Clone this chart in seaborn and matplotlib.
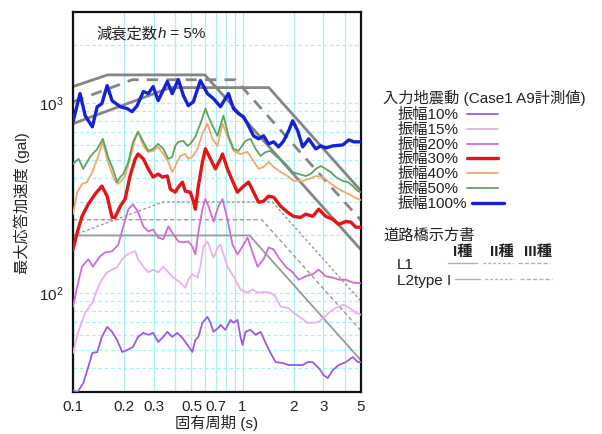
import matplotlib
matplotlib.use("Agg")
import matplotlib.pyplot as plt
import seaborn as sns
import pandas as pd
from matplotlib.lines import Line2D
from matplotlib.ticker import LogLocator, FixedLocator, FixedFormatter, NullFormatter

# ---------------- data ----------------
T_100 = [0.100, 0.110, 0.118, 0.130, 0.139, 0.148, 0.159, 0.170, 0.190, 0.209, 0.223, 0.239, 0.260, 0.278,
         0.297, 0.318, 0.360, 0.385, 0.418, 0.448, 0.479, 0.513, 0.564, 0.621, 0.674, 0.741, 0.772, 0.826,
         0.885, 0.947, 1.014, 1.085, 1.162, 1.244, 1.331, 1.425, 1.526, 1.633, 1.748, 1.872, 1.976, 2.116,
         2.265, 2.458, 2.704, 2.895, 3.099, 3.408, 3.906, 4.240, 4.538, 5.0]
A_100 = [793, 1116, 854, 746, 952, 988, 1230, 1025, 952, 930, 896, 964, 1144, 1116,
         1215, 1025, 1291, 1116, 1324, 1089, 964, 1012, 1307, 1116, 1050, 952, 1012, 1116,
         930, 875, 843, 756, 669, 645, 669, 607, 622, 585, 629, 711, 803, 711,
         585, 645, 571, 592, 578, 592, 599, 637, 622, 622]

T_50 = [0.100, 0.108, 0.115, 0.126, 0.139, 0.150, 0.161, 0.172, 0.182, 0.190, 0.198, 0.212, 0.226, 0.242,
        0.260, 0.278, 0.297, 0.318, 0.341, 0.365, 0.385, 0.401, 0.418, 0.448, 0.473, 0.492, 0.527, 0.564,
        0.604, 0.630, 0.665, 0.711, 0.772, 0.826, 0.885, 0.947, 1.042, 1.115, 1.194, 1.279, 1.368, 1.464,
        1.568, 1.725, 1.846, 1.976, 2.145, 2.359, 2.526, 2.704, 2.895, 3.099, 3.317, 3.550, 3.906, 4.182,
        4.476, 4.792, 5.0]
A_50 = [476, 506, 448, 518, 571, 645, 518, 448, 382, 406, 421, 487, 622, 703,
        622, 557, 571, 607, 571, 506, 518, 592, 622, 629, 592, 607, 661, 774,
        930, 843, 756, 669, 854, 669, 571, 557, 629, 645, 571, 524, 550, 557,
        524, 493, 464, 431, 421, 411, 421, 448, 464, 448, 431, 406, 387, 382,
        364, 342, 338]

T_40 = [0.100, 0.106, 0.113, 0.121, 0.130, 0.139, 0.150, 0.161, 0.172, 0.182, 0.190, 0.203, 0.217, 0.233,
        0.242, 0.260, 0.278, 0.297, 0.318, 0.341, 0.365, 0.385, 0.401, 0.430, 0.460, 0.479, 0.506, 0.542,
        0.580, 0.621, 0.665, 0.711, 0.762, 0.815, 0.885, 0.973, 1.071, 1.162, 1.244, 1.331, 1.425, 1.526,
        1.679, 1.846, 2.004, 2.265, 2.458, 2.704, 2.975, 3.228, 3.550, 3.906, 4.240, 4.663, 5.0]
A_40 = [259, 338, 373, 382, 431, 506, 622, 487, 411, 373, 382, 411, 506, 645,
        703, 592, 550, 557, 585, 537, 487, 431, 464, 524, 537, 506, 518, 571,
        686, 774, 645, 592, 774, 669, 557, 537, 550, 493, 448, 459, 487, 459,
        431, 411, 387, 387, 396, 411, 406, 382, 359, 342, 330, 314, 307]

T_30 = [0.100, 0.106, 0.113, 0.123, 0.135, 0.148, 0.159, 0.170, 0.177, 0.190, 0.203, 0.217, 0.233, 0.242,
        0.260, 0.278, 0.297, 0.318, 0.336, 0.360, 0.375, 0.401, 0.418, 0.442, 0.460, 0.492, 0.513, 0.527,
        0.549, 0.580, 0.604, 0.647, 0.692, 0.741, 0.762, 0.815, 0.873, 0.934, 1.000, 1.085, 1.162, 1.244,
        1.331, 1.425, 1.526, 1.679, 1.846, 2.004, 2.204, 2.359, 2.595, 2.817, 3.099, 3.408, 3.698, 4.070,
        4.355, 4.663, 5.0]
A_30 = [169, 208, 252, 292, 330, 364, 322, 249, 249, 285, 311, 411, 506, 537,
        506, 448, 406, 421, 406, 411, 351, 338, 359, 382, 342, 338, 303, 275,
        364, 487, 571, 506, 448, 506, 537, 448, 387, 338, 359, 382, 338, 299,
        303, 322, 318, 285, 265, 252, 249, 259, 252, 275, 252, 243, 229, 237,
        235, 221, 221]

T_20 = [0.100, 0.106, 0.113, 0.123, 0.131, 0.144, 0.155, 0.170, 0.185, 0.198, 0.212, 0.226, 0.242, 0.260,
        0.278, 0.297, 0.318, 0.341, 0.365, 0.391, 0.418, 0.448, 0.479, 0.506, 0.527, 0.549, 0.580, 0.604,
        0.630, 0.674, 0.721, 0.762, 0.815, 0.873, 0.934, 1.000, 1.071, 1.146, 1.227, 1.331, 1.425, 1.526,
        1.633, 1.797, 1.976, 2.145, 2.359, 2.595, 2.817, 3.099, 3.408, 3.698, 4.070, 4.476, 5.0]
A_20 = [84.3, 108, 137, 150, 137, 155, 163, 165, 179, 223, 275, 292, 265, 223,
        210, 215, 195, 191, 223, 203, 186, 184, 186, 175, 159, 208, 275, 311,
        285, 237, 285, 311, 243, 179, 159, 175, 195, 163, 137, 150, 173, 169,
        153, 137, 128, 117, 122, 125, 132, 122, 120, 117, 117, 113, 112]

T_15 = [0.100, 0.107, 0.118, 0.130, 0.139, 0.148, 0.159, 0.170, 0.182, 0.195, 0.209, 0.223, 0.233, 0.242,
        0.260, 0.278, 0.297, 0.318, 0.341, 0.365, 0.391, 0.430, 0.460, 0.479, 0.506, 0.542, 0.564, 0.588,
        0.621, 0.647, 0.674, 0.721, 0.741, 0.815, 0.885, 0.973, 1.071, 1.146, 1.227, 1.331, 1.464, 1.568,
        1.679, 1.846, 2.004, 2.204, 2.424, 2.631, 2.817, 3.015, 3.228, 3.550, 3.960, 4.240, 4.663, 5.0]
A_15 = [48.1, 61.4, 78.4, 88.5, 104, 117, 128, 132, 136, 150, 159, 163, 165, 150,
        137, 128, 132, 128, 137, 128, 120, 113, 106, 117, 125, 120, 137, 175,
        186, 169, 153, 175, 179, 137, 122, 104, 100, 104, 100, 101, 100, 95.2,
        84.3, 83.3, 78.4, 73.7, 69.4, 69.4, 70.2, 73.7, 78.4, 83.3, 86.4, 83.3, 78.4, 76.5]

T_10 = [0.100, 0.106, 0.115, 0.123, 0.130, 0.139, 0.148, 0.159, 0.170, 0.182, 0.195, 0.209, 0.226, 0.242,
        0.260, 0.278, 0.297, 0.318, 0.341, 0.360, 0.385, 0.412, 0.442, 0.473, 0.506, 0.527, 0.549, 0.580,
        0.621, 0.647, 0.674, 0.721, 0.741, 0.793, 0.849, 0.885, 0.934, 0.973, 1.000, 1.042, 1.115, 1.194,
        1.279, 1.368, 1.464, 1.568, 1.725, 1.872, 2.059, 2.265, 2.424, 2.595, 2.817, 3.015, 3.184, 3.408,
        3.698, 4.070, 4.476, 4.792, 5.0]
A_10 = [30.7, 29.9, 33.4, 40.6, 48.1, 48.7, 58.5, 66.1, 62.2, 56.4, 48.7, 49.9, 51.8, 58.5,
        61.4, 60.0, 61.4, 55.0, 58.5, 62.2, 58.5, 61.4, 57.8, 53.1, 48.7, 56.4, 58.5, 69.4,
        74.6, 69.4, 62.2, 65.3, 67.7, 63.7, 71.9, 69.4, 71.9, 58.5, 53.1, 62.2, 63.7, 60.0,
        62.2, 54.4, 48.1, 43.1, 42.6, 41.6, 41.6, 41.6, 43.1, 43.1, 40.1, 36.8, 35.5, 39.1,
        41.6, 43.1, 45.8, 43.1, 43.1]

series_labels = ["振幅10%", "振幅15%", "振幅20%", "振幅30%", "振幅40%", "振幅50%", "振幅100%"]

# design spectra (道路橋示方書) – corner points
L2_I_T, L2_I_A = [0.1, 0.16, 0.6, 5.0], [1215, 1400, 1400, 168]
L2_II_T, L2_II_A = [0.1, 0.224, 0.91, 5.0], [1010, 1320, 1320, 240]
L2_III_T, L2_III_A = [0.1, 0.376, 1.43, 5.0], [775, 1200, 1200, 343]
L1_I_T, L1_I_A = [0.1, 1.1, 5.0], [200, 200, 44]
L1_II_T, L1_II_A = [0.1, 1.3, 5.0], [242, 242, 63]
L1_III_T, L1_III_A = [0.1, 0.34, 1.5, 5.0], [200, 300, 300, 90]

x_ticks = [0.1, 0.2, 0.3, 0.5, 0.7, 1, 2, 3, 5]
x_ticklabels = ["0.1", "0.2", "0.3", "0.5", "0.7", "1", "2", "3", "5"]

# ---------------- styling ----------------
sns.set_style("white")
plt.rcParams["font.family"] = ["Liberation Sans", "Noto Sans CJK JP", "DejaVu Sans"]
plt.rcParams["axes.unicode_minus"] = False

W, H = 602, 435
fig = plt.figure(figsize=(W / 100, H / 100), dpi=100)
ax = fig.add_axes([73 / W, 1 - 393 / H, (361 - 73) / W, (393 - 13) / H])

def fx(x):
    return x / W

def fy(y):
    return 1 - y / H

frames = []
all_T = [T_10, T_15, T_20, T_30, T_40, T_50, T_100]
all_A = [A_10, A_15, A_20, A_30, A_40, A_50, A_100]
for lab, t, a in zip(series_labels, all_T, all_A):
    frames.append(pd.DataFrame({"T": t, "A": a, "series": lab}))
df = pd.concat(frames, ignore_index=True)

colors = {"振幅10%": "#9b59e6", "振幅15%": "#eab0ee", "振幅20%": "#cf6ad9",
          "振幅30%": "#e31515", "振幅40%": "#f2a86a", "振幅50%": "#5fa35f",
          "振幅100%": "#1522d4"}
widths = {"振幅10%": 1.3, "振幅15%": 1.3, "振幅20%": 1.3, "振幅30%": 2.4,
          "振幅40%": 1.3, "振幅50%": 1.3, "振幅100%": 2.4}

# design spectra lines (behind measured data)
gray = "#858585"
ax.plot(L2_I_T, L2_I_A, color=gray, lw=2.0, zorder=2)
ax.plot(L2_II_T, L2_II_A, color=gray, lw=2.0, ls=(0, (4, 3)), zorder=2)
ax.plot(L2_III_T, L2_III_A, color=gray, lw=2.0, zorder=2)
ax.plot(L1_I_T, L1_I_A, color="#9a9a9a", lw=1.3, zorder=2)
ax.plot(L1_II_T, L1_II_A, color="#9a9a9a", lw=1.0, ls=(0, (3, 2)), zorder=2)
ax.plot(L1_III_T, L1_III_A, color="#9a9a9a", lw=1.0, ls=(0, (2, 1.6)), zorder=2)

for lab in series_labels:
    sub = df[df["series"] == lab]
    sns.lineplot(data=sub, x="T", y="A", ax=ax, color=colors[lab], lw=widths[lab],
                 sort=False, estimator=None, legend=False, zorder=3)

ax.set_xscale("log")
ax.set_yscale("log")
ax.set_xlim(0.1, 5)
ax.set_ylim(30, 3000)

ax.xaxis.set_major_locator(FixedLocator(x_ticks))
ax.xaxis.set_major_formatter(FixedFormatter(x_ticklabels))
ax.xaxis.set_minor_locator(LogLocator(base=10, subs=range(1, 10)))
ax.xaxis.set_minor_formatter(NullFormatter())
ax.yaxis.set_major_locator(LogLocator(base=10))
ax.yaxis.set_minor_locator(LogLocator(base=10, subs=range(2, 10)))
ax.yaxis.set_minor_formatter(NullFormatter())

ax.grid(True, which="both", axis="x", color="#a6f0f6", lw=0.9, ls="-", zorder=0)
ax.grid(True, which="both", axis="y", color="#a6f0f6", lw=0.9, ls=(0, (3, 2)), zorder=0)
ax.set_axisbelow(True)

ax.tick_params(axis="both", which="both", length=0, labelsize=11, colors="#222222")
ax.tick_params(axis="x", pad=5)
ax.tick_params(axis="y", pad=7)
for sp in ax.spines.values():
    sp.set_color("#111111")
    sp.set_linewidth(1.6)

ax.set_xlabel("固有周期 (s)", fontsize=11, labelpad=1, color="#222222")
ax.set_ylabel("最大応答加速度 (gal)", fontsize=11, labelpad=6, color="#222222")

# damping annotation
t1 = ax.text(0.083, 0.934, "減衰定数", transform=ax.transAxes, fontsize=11,
             va="baseline", ha="left", color="#222222")
t2 = ax.annotate("h", xy=(1, 0), xycoords=t1, fontsize=11, style="italic",
                 va="bottom", ha="left", color="#222222")
t3 = ax.annotate(" = 5%", xy=(1, 0), xycoords=t2, fontsize=11,
                 va="bottom", ha="left", color="#222222")

# ---------------- legend (drawn manually like the reference) ----------------
fs = 11
fig.text(fx(383), fy(98), "入力地震動 (Case1 A9計測値)", fontsize=fs, va="center", ha="left",
         color="#222222")
for i, lab in enumerate(series_labels):
    yy = 115 + i * 14.8
    fig.text(fx(398), fy(yy), lab, fontsize=fs, va="center", ha="left", color="#222222")
    x0, x1 = (467, 498) if lab != "振幅100%" else (472, 504)
    fig.add_artist(Line2D([fx(x0), fx(x1)], [fy(yy), fy(yy)], transform=fig.transFigure,
                          color=colors[lab], lw=widths[lab]))

fig.text(fx(383), fy(236), "道路橋示方書", fontsize=fs, va="center", ha="left", color="#222222")
for txt, xc in [("I種", 463), ("II種", 502), ("III種", 538)]:
    fig.text(fx(xc), fy(252), txt, fontsize=fs, va="center", ha="center", color="#222222",
             weight="bold")
fig.text(fx(397), fy(265), "L1", fontsize=fs, va="center", ha="left", color="#222222")
fig.text(fx(397), fy(281), "L2type I", fontsize=fs, va="center", ha="left", color="#222222")
lg = "#b0b0b0"
for yy, segs in [(264, [(448, 477), (483, 513), (518, 550)]),
                 (280, [(455, 480), (485, 515), (520, 552)])]:
    styles = ["-", (0, (2, 1.5)), (0, (3, 1.5))]
    for (x0, x1), st in zip(segs, styles):
        fig.add_artist(Line2D([fx(x0), fx(x1)], [fy(yy), fy(yy)], transform=fig.transFigure,
                              color=lg, lw=1.0, ls=st))

fig.savefig("out.png", dpi=100)
